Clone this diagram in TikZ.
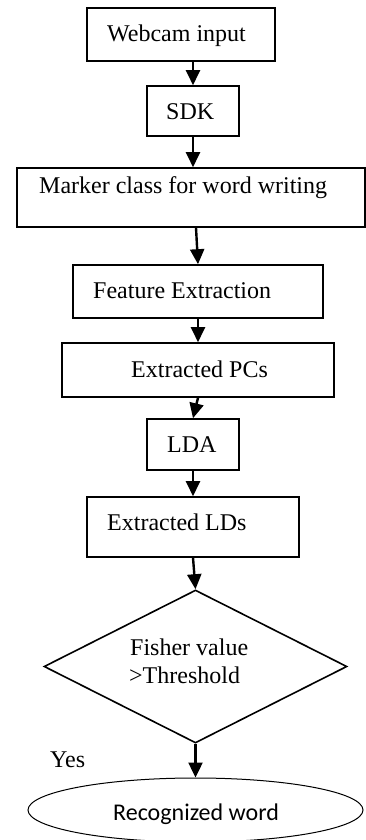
\documentclass[tikz,border=0pt]{standalone}
\usepackage{fontspec}
\setmainfont{Liberation Serif}
\newfontfamily\calibfont{Carlito}
\usetikzlibrary{arrows.meta,shapes.geometric}
\begin{document}
\begin{tikzpicture}[x=1pt,y=-1pt,
  box/.style={draw,line width=1.6pt,inner sep=0pt,rectangle},
  lbl/.style={anchor=base west,inner sep=0pt,font=\fontsize{24}{28}\selectfont},
  arr/.style={line width=2.4pt,-{Triangle[length=15pt,width=14pt]}}]
\useasboundingbox (0,0) rectangle (366,840);
% boxes
\node[box,minimum width=188pt,minimum height=53pt] (b1) at (181,34.5) {};
\node[box,minimum width=92pt,minimum height=50pt] (b2) at (193,111) {};
\node[box,minimum width=348pt,minimum height=59pt] (b3) at (191,197.5) {};
\node[box,minimum width=250pt,minimum height=53pt] (b4) at (198,291.5) {};
\node[box,minimum width=272pt,minimum height=54pt] (b5) at (198,370) {};
\node[box,minimum width=92pt,minimum height=51pt] (b6) at (193,444.5) {};
\node[box,minimum width=212pt,minimum height=60pt] (b7) at (193,527) {};
\node[draw,diamond,line width=1.6pt,inner sep=0pt,minimum width=303pt,minimum height=153pt] (d) at (195.5,666.5) {};
\node[draw,ellipse,line width=1pt,inner sep=0pt,minimum width=335pt,minimum height=64pt] (e) at (195.5,810) {};
% texts
\node[lbl] (t1) at (107,42) {Webcam input};
\node[lbl] (t2) at (166,120) {SDK};
\node[lbl] (t3) at (39,193) {Marker class for word writing};
\node[lbl] (t4) at (93,298) {Feature Extraction};
\node[lbl] (t5) at (131,377) {Extracted PCs};
\node[lbl] (t6) at (167,452) {LDA};
\node[lbl] (t7) at (107,530) {Extracted LDs};
\node[lbl] (t8) at (130,655) {Fisher value};
\node[lbl] (t9) at (129,683) {>Threshold};
\node[lbl] (t10) at (50,767) {Yes};
\node[lbl,font=\calibfont\fontsize{24}{28}\selectfont] (t11) at (113,820) {Recognized word};
% arrows
\draw[arr] (b2.north |- b1.south) -- (b2.north);
\draw[arr] (b2.south) -- (b2.south |- b3.north);
\draw[arr] ([xshift=-2pt]b4.north |- b3.south) -- (b4.north);
\draw[arr] (b4.south) -- (b5.north);
\draw[arr] (b5.south) -- (b6.north);
\draw[arr] (b6.south) -- (b7.north);
\draw[arr] (b7.south) -- (d.north);
\draw[arr] (d.south) -- (e.north);
\end{tikzpicture}
\end{document}
